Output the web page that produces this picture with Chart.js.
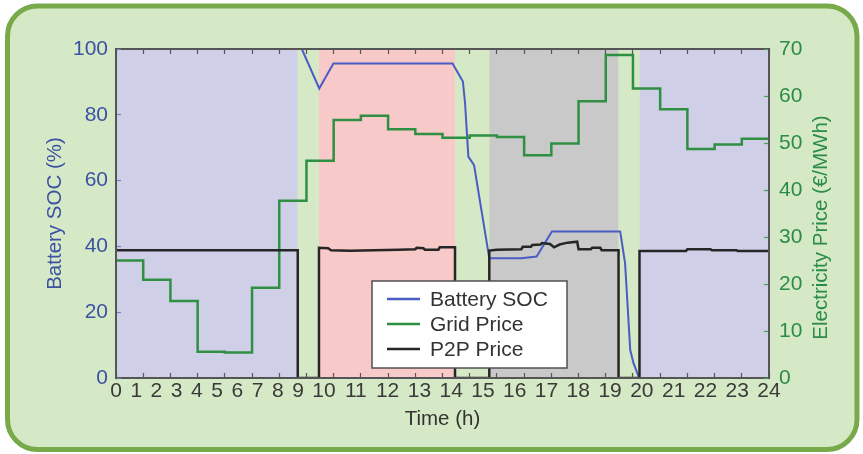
<!DOCTYPE html>
<html>
<head>
<meta charset="utf-8">
<script src="https://cdn.jsdelivr.net/npm/chart.js@4.4.1/dist/chart.umd.min.js"></script>
<style>
  html, body { margin: 0; padding: 0; background: #ffffff; }
  canvas { display: block; }
</style>
</head>
<body>
<canvas id="chart" width="863" height="454"></canvas>
<script>
// ---- data -------------------------------------------------------------
// Grid tariff (€/MWh), one value per hour, hour 0 .. 23
const gridHours = [0, 1, 2, 3, 4, 5, 6, 7, 8, 9, 10, 11, 12, 13, 14, 15, 16, 17, 18, 19, 20, 21, 22, 23];
const gridPrice = [25.0, 20.9, 16.4, 5.6, 5.4, 19.2, 37.7, 46.2, 54.9, 55.8, 52.9, 51.9,
                   51.1, 51.6, 51.3, 47.4, 49.9, 58.9, 68.7, 61.6, 57.2, 48.7, 49.7, 50.9];

// Battery state of charge (%)
const socTime  = [0, 6.83, 7.47, 7.99, 12.37, 12.75, 12.83, 12.95, 13.16, 13.72, 14.9, 15.46, 16.02, 18.53, 18.71, 18.9, 19.02, 19.23, 24];
const socValue = [100, 100, 88.0, 95.6, 95.6, 90.1, 83.5, 67.3, 64.7, 36.4, 36.4, 36.9, 44.5, 44.5, 34.9, 8.5, 4.5, 0, 0];

// Peer-to-peer market price (€/MWh); zero while the local market is closed
const p2pTime  = [0, 6.68, 6.68, 7.46, 7.46, 7.8, 7.9, 8.6, 9.5, 10.4, 11.0, 11.05, 11.3, 11.35, 11.85, 11.9, 12.46, 12.46,
                  13.72, 13.72, 14.0, 14.9, 14.95, 15.25, 15.3, 15.6, 15.65, 15.95, 16.1, 16.3, 16.6, 16.95, 17.0, 17.45, 17.5,
                  17.8, 17.85, 18.47, 18.47, 19.24, 19.24, 20.95, 21.0, 21.85, 21.9, 22.8, 22.85, 24];
const p2pValue = [27.2, 27.2, 0, 0, 27.7, 27.6, 27.2, 27.1, 27.2, 27.3, 27.4, 27.7, 27.6, 27.3, 27.3, 27.8, 27.8, 0,
                  0, 27.1, 27.3, 27.4, 27.9, 27.9, 28.3, 28.4, 28.7, 28.5, 27.8, 28.4, 28.8, 29.0, 27.4, 27.4, 27.7,
                  27.7, 27.2, 27.2, 0, 0, 27.0, 27.0, 27.4, 27.4, 27.2, 27.2, 27.0, 27.0];

// Operating periods (h) and their kind
const periodStart = [0, 7.46, 13.72, 19.24];
const periodEnd   = [6.68, 12.46, 18.47, 24];
const periodKind  = ['night', 'midday', 'evening', 'night'];

// Hour labels along the time axis
const hourLabels = ['0', '1', '2', '3', '4', '5', '6', '7', '8', '9', '10', '11', '12',
                    '13', '14', '15', '16', '17', '18', '19', '20', '21', '22', '23', '24'];

// ---- styling ----------------------------------------------------------
const FONT = "'Liberation Sans', Arial, Helvetica, sans-serif";
const AXIS_GRAY = '#555555';
const SOC_BLUE = '#3c52a3';
const PRICE_GREEN = '#2b8c48';
const periodColor = { night: '#cfd0e8', midday: '#f8c9c9', evening: '#c9c9c9' };
const LABEL_GAP = 0.75; // gap between neighbouring hour labels, in digit widths

// Hour labels are set as one run of text spread over the axis
function labelPositions(labels, lo, hi) {
  const c = [0];
  for (let i = 1; i < labels.length; i++) {
    c.push(c[i - 1] + (labels[i - 1].length + labels[i].length) / 2 + LABEL_GAP);
  }
  const span = c[c.length - 1];
  return c.map(v => lo + (v / span) * (hi - lo));
}

const toPoints = (xs, ys) => xs.map((x, i) => ({ x: x, y: ys[i] }));

// grid tariff holds its value to the end of the day
const gridPoints = toPoints(gridHours, gridPrice);
gridPoints.push({ x: 24, y: gridPrice[gridPrice.length - 1] });

const shadeSets = periodStart.map((s, i) => ({
  label: '',
  data: [{ x: s, y: 100 }, { x: periodEnd[i], y: 100 }],
  yAxisID: 'y',
  borderWidth: 0,
  pointRadius: 0,
  fill: 'origin',
  backgroundColor: periodColor[periodKind[i]],
  order: 10
}));

// ---- plugins ----------------------------------------------------------
const framePlugin = {
  id: 'frame',
  beforeDraw(chart) {
    const ctx = chart.ctx;
    ctx.save();
    ctx.fillStyle = '#ffffff';
    ctx.fillRect(0, 0, chart.width, chart.height);
    ctx.beginPath();
    ctx.roundRect(7.5, 6, 849.5, 443.5, 30);
    ctx.fillStyle = '#d6e9c6';
    ctx.fill();
    ctx.lineWidth = 5;
    ctx.strokeStyle = '#78a94a';
    ctx.stroke();
    ctx.restore();
  }
};

const boxLegendPlugin = {
  id: 'boxLegend',
  afterDraw(chart) {
    const ctx = chart.ctx;
    const ca = chart.chartArea;
    const bx = ca.left + 256, by = ca.top + 232, bw = 195, bh = 87;
    ctx.save();
    ctx.fillStyle = '#ffffff';
    ctx.fillRect(bx, by, bw, bh);
    ctx.lineWidth = 1.5;
    ctx.strokeStyle = '#505050';
    ctx.strokeRect(bx, by, bw, bh);
    const entries = chart.data.datasets.filter(d => d.label);
    ctx.font = '21px ' + FONT;
    ctx.textBaseline = 'middle';
    ctx.textAlign = 'left';
    entries.forEach((d, i) => {
      const yy = by + 18 + i * 25;
      ctx.beginPath();
      ctx.moveTo(bx + 15, yy);
      ctx.lineTo(bx + 48, yy);
      ctx.lineWidth = 2.5;
      ctx.strokeStyle = d.borderColor;
      ctx.stroke();
      ctx.fillStyle = '#333333';
      ctx.fillText(d.label, bx + 58, yy + 1);
    });
    ctx.restore();
  }
};

// right-hand axis title, reading upwards
const rightTitlePlugin = {
  id: 'rightTitle',
  afterDraw(chart) {
    const ctx = chart.ctx;
    const s = chart.scales.y2;
    ctx.save();
    ctx.translate(s.right - 42, (s.top + s.bottom) / 2 + 14);
    ctx.rotate(-Math.PI / 2);
    ctx.font = '20.5px ' + FONT;
    ctx.fillStyle = PRICE_GREEN;
    ctx.textAlign = 'center';
    ctx.textBaseline = 'middle';
    ctx.fillText('Electricity Price (€/MWh)', 0, 0);
    ctx.restore();
  }
};

// ---- chart ------------------------------------------------------------
new Chart(document.getElementById('chart'), {
  type: 'line',
  data: {
    datasets: [
      {
        label: 'Battery SOC',
        data: toPoints(socTime, socValue),
        yAxisID: 'y',
        borderColor: '#4b5cc4',
        borderWidth: 2,
        pointRadius: 0,
        tension: 0,
        fill: false,
        order: 3
      },
      {
        label: 'Grid Price',
        data: gridPoints,
        yAxisID: 'y2',
        stepped: true,
        borderColor: '#2f8f42',
        borderWidth: 2.5,
        pointRadius: 0,
        fill: false,
        order: 2
      },
      {
        label: 'P2P Price',
        data: toPoints(p2pTime, p2pValue),
        yAxisID: 'y2',
        borderColor: '#262626',
        borderWidth: 2.5,
        pointRadius: 0,
        tension: 0,
        fill: false,
        order: 1
      },
      ...shadeSets
    ]
  },
  options: {
    responsive: false,
    animation: false,
    layout: { padding: 0 },
    plugins: { legend: { display: false }, tooltip: { enabled: false } },
    scales: {
      x: {
        type: 'linear', position: 'bottom', min: 0, max: 24, weight: 0, z: 1,
        ticks: { display: false, stepSize: 1 },
        grid: { z: 1, drawOnChartArea: false, drawTicks: true, tickLength: -5, tickColor: AXIS_GRAY, tickWidth: 1.2 },
        border: { z: 1, display: true, color: AXIS_GRAY, width: 2 },
        afterFit: s => { s.height = 0; }
      },
      xLab: {
        type: 'linear', position: 'bottom', min: 0, max: 24, weight: 1, z: 1,
        afterBuildTicks: s => { s.ticks = labelPositions(hourLabels, 0, 24).map(v => ({ value: v })); },
        ticks: {
          autoSkip: false, maxRotation: 0, minRotation: 0, padding: 1,
          color: '#3a3a3a', font: { family: FONT, size: 21 },
          callback: (v, i) => hourLabels[i]
        },
        grid: { display: false, drawTicks: false },
        border: { display: false },
        title: {
          display: true, text: 'Time (h)', color: '#333333',
          font: { family: FONT, size: 20.5 }, padding: { top: 4, bottom: 22 }
        },
        afterFit: s => { s.height = 76; }
      },
      xTop: {
        type: 'linear', position: 'top', min: 0, max: 24, z: 1,
        ticks: { display: false, stepSize: 1 },
        grid: { z: 1, drawOnChartArea: false, drawTicks: true, tickLength: -5, tickColor: AXIS_GRAY, tickWidth: 1.2 },
        border: { z: 1, display: true, color: AXIS_GRAY, width: 2 },
        afterFit: s => { s.height = 49; }
      },
      y: {
        position: 'left', min: 0, max: 100, z: 1,
        ticks: { stepSize: 20, color: SOC_BLUE, font: { family: FONT, size: 21 }, padding: 13 },
        grid: { z: 1, drawOnChartArea: false, tickLength: -5, tickColor: '#7080c0', tickWidth: 1.2 },
        border: { z: 1, display: true, color: AXIS_GRAY, width: 2 },
        title: {
          display: true, text: 'Battery SOC (%)', color: SOC_BLUE,
          font: { family: FONT, size: 20.5 }, padding: { top: 43, bottom: 0 }
        },
        afterFit: s => { s.width = 116; }
      },
      y2: {
        position: 'right', min: 0, max: 70, z: 1,
        ticks: { stepSize: 10, color: PRICE_GREEN, font: { family: FONT, size: 21 }, padding: 15 },
        grid: { z: 1, drawOnChartArea: false, tickLength: -5, tickColor: '#4f9a5f', tickWidth: 1.2 },
        border: { z: 1, display: true, color: AXIS_GRAY, width: 2 },
        afterFit: s => { s.width = 94; }
      }
    }
  },
  plugins: [framePlugin, boxLegendPlugin, rightTitlePlugin]
});
</script>
</body>
</html>
